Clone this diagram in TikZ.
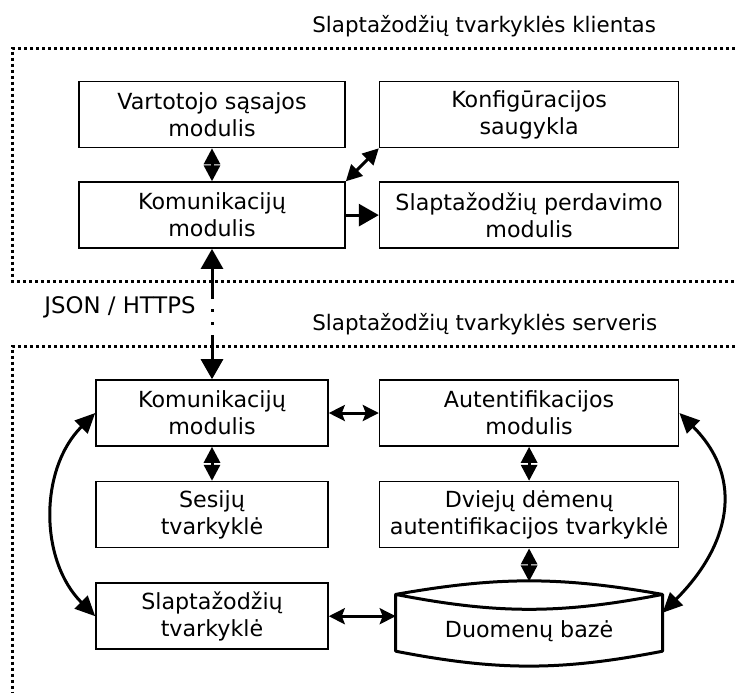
\documentclass[tikz,border=0pt]{standalone}
\usepackage{fontspec}
\setmainfont{DejaVu Sans}
\usetikzlibrary{arrows.meta,positioning}

\begin{document}
\begin{tikzpicture}[
    x=0.5pt, y=-0.5pt,
    node distance=16.5pt and 16.5pt,
    box/.style={draw, line width=0.8pt, align=center, inner sep=2pt,
                font=\fontsize{11.1pt}{13.5pt}\selectfont, minimum height=33pt},
    narrow/.style={box, minimum width=133pt},
    slim/.style={box, minimum width=116pt},
    wide/.style={box, minimum width=149.5pt},
    store/.style={align=center, inner sep=0pt, minimum width=133pt, minimum height=28pt,
                  font=\fontsize{11.1pt}{13.5pt}\selectfont, text height=17pt, text depth=2.5pt},
    lab/.style={inner sep=0pt, font=\fontsize{10.7pt}{13.5pt}\selectfont},
    frame/.style={line width=1.5pt, dash pattern=on 1.5pt off 1.5pt},
    dbl/.style={<->, >={Triangle[length=8pt, width=8pt]}, line width=1.5pt},
    big/.style={<->, >={Triangle[length=10pt, width=11pt]}, line width=1.5pt},
    one/.style={->, >={Triangle[length=10pt, width=11pt]}, line width=1.5pt},
    flat/.style={<->, >={Stealth[length=8pt, width=8pt, inset=1.5pt]}, line width=1.5pt},
    bow/.style={<->, >={Triangle[length=10pt, width=9pt]}, line width=1.5pt}
  ]
    \useasboundingbox (0,0) rectangle (735,693);

    % client
    \draw[frame] (735,48) -- (12.5,48) -- (12.5,281) -- (735,281);
    \node[lab, anchor=west] (ctitle) at (312,26) {Slaptažodžių tvarkyklės klientas};
    \node[narrow] (ui) at (212,114.5) {Vartotojo sąsajos\\modulis};
    \node[wide, right=of ui] (cfg) {Konfigūracijos\\saugykla};
    \node[narrow, below=of ui] (ckom) {Komunikacijų\\modulis};
    \node[wide, below=of cfg] (xfer) {Slaptažodžių perdavimo\\modulis};

    % server
    \draw[frame] (735,346) -- (12.5,346) -- (12.5,693);
    \node[lab, anchor=west] (stitle) at (312,324) {Slaptažodžių tvarkyklės serveris};
    \node[lab, font=\fontsize{11.4pt}{13.5pt}\selectfont] (proto) at (120,307) {JSON / HTTPS};
    \node[slim] (skom) at (212,413) {Komunikacijų\\modulis};
    \node[wide, right=25pt of skom] (auth) {Autentifikacijos\\modulis};
    \node[slim, below=17pt of skom] (sess) {Sesijų\\tvarkyklė};
    \node[wide, below=17pt of auth] (tfa) {Dviejų dėmenų\\autentifikacijos tvarkyklė};
    \node[slim, below=17pt of sess] (spass) {Slaptažodžių\\tvarkyklė};
    \node[store, below=23pt of tfa] (db) {Duomenų bazė};
    \draw[line width=1.5pt, line join=round] (db.north west) to[bend left=10] (db.north east)
      to[bend left=11] (db.north west) -- (db.south west) to[bend right=11] (db.south east)
      -- (db.north east);

    \draw[dbl] (ui) -- (ckom);
    \draw[dbl] (ckom.north east) -- (cfg.south west);
    \draw[one] (ckom) -- (xfer);
    \draw[big, dash pattern=on 15.5pt off 5pt on 1.5pt off 5pt on 1.5pt off 5pt on 15.5pt] (ckom) -- (skom);
    \draw[flat] (skom) -- (auth);
    \draw[dbl] (skom) -- (sess);
    \draw[dbl] (auth) -- (tfa);
    \draw[dbl] (tfa) -- ([yshift=6.5pt]db.north);
    \draw[flat] (spass) -- (spass -| db.west);
    \draw[bow] (skom.west) to[out=225, in=135] (spass.west);
    \draw[bow] (auth.east) to[out=-45, in=45, looseness=1.2] ([yshift=5pt]db.east);
  \end{tikzpicture}
\end{document}
